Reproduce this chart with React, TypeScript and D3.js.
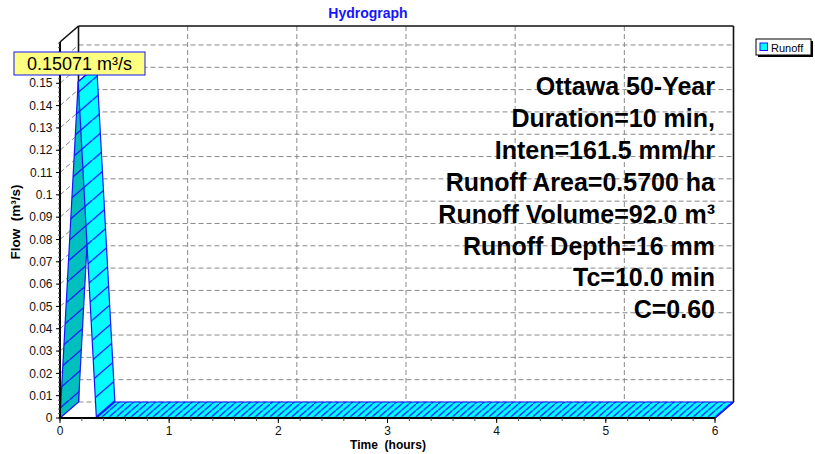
import * as d3 from "d3";

// hydrograph (rational method triangle)
const timeHours = [0, 0.1667, 0.3333, 6];
const flowCms = [0, 0.15071, 0, 0];

const xTickValues = [0, 1, 2, 3, 4, 5, 6];
const yTickValues = [
  0, 0.01, 0.02, 0.03, 0.04, 0.05, 0.06, 0.07, 0.08, 0.09, 0.1, 0.11, 0.12,
  0.13, 0.14, 0.15, 0.16,
];
// 0.16 sits under the peak annotation, so no label for it
const yLabelValues = yTickValues.slice(0, -1);

const infoLines = [
  "Ottawa 50-Year",
  "Duration=10 min,",
  "Inten=161.5 mm/hr",
  "Runoff Area=0.5700 ha",
  "Runoff Volume=92.0 m³",
  "Runoff Depth=16 mm",
  "Tc=10.0 min",
  "C=0.60",
];

const peakLabel = "0.15071 m³/s";
const seriesName = "Runoff";

const FONT = "'Liberation Sans', Arial, sans-serif";
const W = 815;
const H = 454;
const DX = 18.5;
const DY = -16;

export default function App() {
  const x = d3.scaleLinear().domain([0, 6]).range([60, 715]);
  const y = d3.scaleLinear().domain([0, 0.1685]).range([418, 42]);

  const [x0, x1] = x.range();
  const [yb, yt] = y.range();

  const minorX = d3.range(0, 6.001, 0.2);
  const minorY = d3.range(0, 0.1681, 0.002);

  const pts = timeHours.map((t, i) => [x(t), y(flowCms[i])] as [number, number]);

  const faces = pts.slice(0, -1).map((p, i) => {
    const q = pts[i + 1];
    const rising = flowCms[i + 1] > flowCms[i];
    const flat = flowCms[i + 1] === flowCms[i];
    const poly = [p, q, [q[0] + DX, q[1] + DY], [p[0] + DX, p[1] + DY]]
      .map((c) => c.join(","))
      .join(" ");
    return {
      poly,
      fill: rising ? "#00BFBF" : "#00FFFF",
      hatch: flat ? "url(#hatchFlat)" : "url(#hatchSteep)",
    };
  });

  const fmt = (v: number) => String(+v.toFixed(2));

  return (
    <svg
      width={W}
      height={H}
      style={{ position: "absolute", left: 0, top: 0, background: "#fff" }}
      fontFamily={FONT}
    >
      <defs>
        <pattern id="hatchFlat" patternUnits="userSpaceOnUse" width={7.3} height={7.3 * 16 / 18.5}>
          <line x1={-1} y1={7.3 * 16 / 18.5 + 16 / 18.5} x2={8.3} y2={-16 / 18.5} stroke="#1010ff" strokeWidth={1.2} />
        </pattern>
        <pattern id="hatchSteep" patternUnits="userSpaceOnUse" width={20 * 18.5 / 16} height={20}>
          <line x1={-1} y1={20 + 16 / 18.5} x2={20 * 18.5 / 16 + 1} y2={-16 / 18.5} stroke="#1010ff" strokeWidth={1.3} />
        </pattern>
      </defs>

      {/* title */}
      <text x={368} y={18} textAnchor="middle" fontSize={14} fontWeight="bold" fill="#1414ff">
        Hydrograph
      </text>

      {/* back wall grid */}
      <g stroke="#8a8a8a" strokeDasharray="5,3" strokeWidth={1}>
        {yTickValues.map((v) => (
          <line key={"hy" + v} x1={x0 + DX} x2={x1 + DX} y1={y(v) + DY} y2={y(v) + DY} />
        ))}
        {xTickValues.slice(1, -1).map((v) => (
          <line key={"vx" + v} x1={x(v) + DX} x2={x(v) + DX} y1={yt + DY} y2={yb + DY} />
        ))}
        {yTickValues.slice(1).map((v) => (
          <line key={"lw" + v} x1={x0} y1={y(v)} x2={x0 + DX} y2={y(v) + DY} />
        ))}
      </g>

      {/* walls / frame */}
      <g stroke="#111" strokeWidth={1.6} fill="none">
        <line x1={x0} y1={yt} x2={x0 + DX} y2={yt + DY} />
        <line x1={x0 + DX} y1={yt + DY} x2={x1 + DX} y2={yt + DY} />
        <line x1={x1 + DX} y1={yt + DY} x2={x1 + DX} y2={yb + DY} />
        <line x1={x0 + DX} y1={yt + DY} x2={x0 + DX} y2={yb + DY} />
        <line x1={x1} y1={yb} x2={x1 + DX} y2={yb + DY} />
      </g>

      {/* series ribbon */}
      {faces.map((f, i) => (
        <g key={"f" + i}>
          <polygon points={f.poly} fill={f.fill} />
          <polygon points={f.poly} fill={f.hatch} stroke="#1414ff" strokeWidth={1.2} strokeLinejoin="round" />
        </g>
      ))}

      {/* y axis */}
      <line x1={x0} x2={x0} y1={yt} y2={yb + 1} stroke="#000" strokeWidth={2} />
      <g stroke="#555" strokeWidth={1}>
        {minorY.map((v) => (
          <line key={"my" + v} x1={x0 - 2} x2={x0} y1={y(v)} y2={y(v)} />
        ))}
      </g>
      <g stroke="#000" strokeWidth={1}>
        {yTickValues.map((v) => (
          <line key={"ty" + v} x1={x0 - 4} x2={x0} y1={y(v)} y2={y(v)} />
        ))}
      </g>
      <g fontSize={12} textAnchor="end" fill="#111">
        {yLabelValues.map((v) => (
          <text key={"ly" + v} x={x0 - 7.5} y={y(v) + 4.2}>
            {fmt(v)}
          </text>
        ))}
      </g>
      <text
        transform={`translate(19.5,222) rotate(-90)`}
        textAnchor="middle"
        fontSize={13.5}
        fontWeight="bold"
        style={{ whiteSpace: "pre" }}
      >
        {"Flow  (m³/s)"}
      </text>

      {/* x axis */}
      <line x1={x0 - 1} x2={x1} y1={yb} y2={yb} stroke="#000" strokeWidth={2} />
      <g stroke="#555" strokeWidth={1}>
        {minorX.map((v) => (
          <line key={"mx" + v} x1={x(v)} x2={x(v)} y1={yb} y2={yb + 3} />
        ))}
      </g>
      <g stroke="#000" strokeWidth={1}>
        {xTickValues.map((v) => (
          <line key={"tx" + v} x1={x(v)} x2={x(v)} y1={yb} y2={yb + 5} />
        ))}
      </g>
      <g fontSize={12} textAnchor="middle" fill="#111">
        {xTickValues.map((v) => (
          <text key={"lx" + v} x={x(v)} y={435}>
            {v}
          </text>
        ))}
      </g>
      <text x={388} y={449} textAnchor="middle" fontSize={12} fontWeight="bold" style={{ whiteSpace: "pre" }}>
        {"Time  (hours)"}
      </text>

      {/* storm info */}
      <g fontSize={25} fontWeight="bold" textAnchor="end" fill="#000">
        {infoLines.map((s, i) => (
          <text key={s} x={715} y={95 + i * 31.9}>
            {s}
          </text>
        ))}
      </g>

      {/* legend */}
      <rect x={758} y={41} width={55} height={16} fill="#000" />
      <rect x={756} y={39} width={55} height={16} fill="#fff" stroke="#000" strokeWidth={1} />
      <rect x={760} y={43} width={7.5} height={7.5} fill="#00FFFF" stroke="#1414ff" strokeWidth={1} />
      <text x={771} y={51.5} fontSize={11}>
        {seriesName}
      </text>

      {/* peak annotation */}
      <rect x={14} y={52} width={131} height={23} fill="#FFFF80" stroke="#1414ff" strokeWidth={1} />
      <text x={79.5} y={69.5} textAnchor="middle" fontSize={18} fill="#000">
        {peakLabel}
      </text>
    </svg>
  );
}
